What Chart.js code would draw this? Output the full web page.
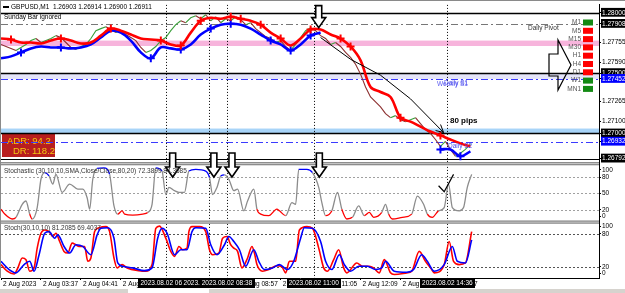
<!DOCTYPE html>
<html lang="en">
<head>
<meta charset="UTF-8">
<title>GBPUSD,M1</title>
<script src="https://cdn.jsdelivr.net/npm/chart.js@4.4.0/dist/chart.umd.min.js"></script>
<style>
  html, body { margin: 0; padding: 0; background: #fff; }
  #wrap { position: relative; width: 625px; height: 293px; overflow: hidden; }
</style>
</head>
<body>
<div id="wrap"><canvas id="mt4" width="625" height="293"></canvas></div>
<script>
// ---- values (x = M1 bars from the left edge) ----

// close, one sample every 8 bars
const closePrices = [
  1.27738,1.27721,1.27705,1.27688,1.27713,1.27738,1.27770,1.27787,1.27754,1.27770,
  1.27787,1.27811,1.27795,1.27754,1.27713,1.27697,1.27721,1.27738,1.27787,1.27852,
  1.27869,1.27885,1.27861,1.27836,1.27852,1.27820,1.27795,1.27770,1.27713,1.27672,
  1.27688,1.27721,1.27770,1.27795,1.27852,1.27902,1.27934,1.27918,1.27959,1.27975,
  1.27951,1.27984,1.27934,1.27967,1.27918,1.27951,1.27934,1.27967,1.27943,1.27902,
  1.27918,1.27869,1.27836,1.27803,1.27787,1.27754,1.27770,1.27721,1.27688,1.27738,
  1.27795,1.27852,1.27877,1.27852,1.27811,1.27787,1.27738,1.27754,1.27721,1.27672,
  1.27631,1.27574,1.27492,1.27385,1.27303,1.27262,1.27221,1.27164,1.27131,1.27148,
  1.27114,1.27098,1.27114,1.27131,1.27082,1.27032,1.27000,1.26950,1.26893,1.26934,
  1.26868,1.26811,1.26836,1.26868,1.26911
];
// red and blue trend lines, one sample every 16 bars
const redLine = [
  1.27787,1.27779,1.27754,1.27754,1.27746,1.27770,1.27787,1.27770,1.27746,1.27754,
  1.27811,1.27869,1.27852,1.27820,1.27787,1.27779,1.27770,1.27738,1.27729,1.27836,
  1.27934,1.27959,1.27951,1.27967,1.27951,1.27934,1.27902,1.27836,1.27787,1.27729,
  1.27787,1.27861,1.27861,1.27820,1.27787,1.27721,1.27606,1.27385,1.27344,1.27303,
  1.27131,1.27098,1.27057,1.27016,1.26984,1.26950,1.26918,1.26893
];
const blueLine = [
  1.27623,1.27639,1.27672,1.27705,1.27721,1.27713,1.27713,1.27705,1.27713,1.27738,
  1.27795,1.27852,1.27836,1.27770,1.27672,1.27623,1.27713,1.27705,1.27697,1.27738,
  1.27820,1.27869,1.27902,1.27910,1.27902,1.27869,1.27820,1.27770,1.27738,1.27688,
  1.27738,1.27811,1.27836,null,null,null,null,null,null,null,
  null,null,null,null,1.26868,1.26868,1.26811,1.26852
];
const redCrossIdx = [1,6,11,16,18,20,23,24,26,28,31,34,35,40,44];
const blueCrossIdx = [2,6,15,18,21,23,27,29,31,44,46];

// Stochastic (30,10,10) main line, upper window
const stoch1Bars = [0,6,18,24,34,40,46,50,58,64,70,77,83,88,98,110,123,131,138,142,
  147,154,165,174,181,187,194,198,211,227,235,242,248,258,264,269,278,285,294,301,
  312,328,334,339,346,352,358,365,373,379,389,395,405,410,416,429,442,446,456,466,
  472,477,490,499,509,514,520,530,539,546,554,563,573,582,590,597,610,616,621,627,
  643,658,667,677,683,691,701,710,717,723,734,741,747,754];
const stoch1Main = [21,12,3,6,30,36,12,3,24,76,88,82,67,85,52,67,58,58,42,21,
  76,96,97,85,27,12,18,12,10,12,15,30,97,91,48,61,55,52,52,91,
  94,91,79,48,61,82,84,76,55,58,18,36,58,21,12,9,21,18,9,33,
  30,94,94,88,61,33,9,18,52,21,3,6,27,9,15,6,15,30,12,3,
  6,12,45,30,12,6,18,24,67,24,18,24,61,85];

// Stoch(30,10,10) lower window: main (red) and signal (blue)
const stoch2MainBars = [0,10,21,27,34,40,46,53,58,64,70,77,83,88,94,101,107,114,120,125,
  134,139,144,150,157,168,174,181,186,194,202,221,232,242,248,254,264,272,278,285,
  291,298,301,306,318,328,334,339,349,355,362,368,373,379,386,395,402,406,410,419,
  429,442,450,456,462,472,478,490,499,509,517,523,533,541,549,554,570,579,590,597,
  606,614,624,630,650,658,670,680,690,694,710,718,725,734,744,754];
const stoch2Main = [24,12,7,18,36,33,12,18,54,81,87,84,75,81,66,48,45,63,60,57,
  57,30,36,84,91,93,84,36,18,24,18,13,12,24,90,94,72,48,39,57,
  51,54,84,93,93,84,51,42,45,72,75,60,54,48,18,36,57,45,24,12,
  15,22,20,9,30,30,87,93,90,54,18,12,33,51,18,9,27,21,21,18,
  9,33,9,6,9,12,48,30,15,9,24,66,30,24,27,84];
const stoch2SigBars = [0,13,24,37,46,53,61,70,77,86,91,101,110,120,131,144,154,160,171,181,
  187,195,211,230,242,251,258,266,278,288,298,306,312,328,336,346,358,365,373,382,
  392,405,413,422,435,446,459,469,480,486,499,512,520,530,542,550,560,573,587,600,
  610,616,630,650,661,674,683,694,710,723,731,744,754];
const stoch2Signal = [30,15,9,24,30,12,42,81,84,72,78,57,45,60,57,42,78,90,91,72,
  27,21,18,13,18,72,90,81,42,51,51,84,91,90,60,42,60,75,66,51,
  21,51,30,15,18,24,15,30,72,91,90,66,30,15,42,24,12,21,21,15,
  18,30,12,10,15,42,30,12,24,57,30,27,69];

// axis
const priceRange = [1.267454, 1.280656];
const priceAxisTicks = [1.28000,1.27908,1.27755,1.27590,1.27500,1.27452,1.27265,1.27100,1.27000,1.26932,1.26792];
const darkBoxTicks = [1.28000,1.27908,1.27500,1.27000,1.26792];
const blueBoxTicks = [1.27452,1.26932];
const stoch1Ticks = [0,20,50,80,100];
const stoch2Ticks = [0,20,80,100];
const timeTickBars = [0,64,128,192,256,320,384,448,512,576,640,704];
const timeTickLabels = ['2 Aug 2023','2 Aug 03:37','2 Aug 04:41','2 Aug 05:45','2 Aug 06:49','2 Aug 07:53',
  '2 Aug 08:57','2 Aug 10:01','2 Aug 11:05','2 Aug 12:09','2 Aug 13:13','2 Aug 14:17'];

// objects on the chart
const levelPrices = [1.28000,1.27908,1.27500,1.27452,1.27000,1.26932,1.26792];
const levelKinds  = ['solid','pivot','solid','support','solid','support','thin'];
const pinkZone = [1.27770, 1.27725];
const lilacZone = [1.27500, 1.27452];
const blueZone = [1.27041, 1.27000];
const vlineBars = [264, 333, 362, 501, 715];
const vlineLabels = ['2023.08.02 06:57','2023.08.02 08:06','2023.08.02 08:38','2023.08.02 11:00','2023.08.02 14:36'];
const tfNames = ['M1','M5','M15','M30','H1','H4','D1','W1','MN1'];
const tfUp = [true,false,false,false,false,false,false,true,true];
const trendBars = [512,560,608,656,709];
const trendPrices = [1.27795,1.27615,1.27483,1.27287,1.27008];
const tickBars = [701,710,725];
const tickVals = [64,53,85];
const stochArrowBars = [275,341,370,510];

const FONT = '"Liberation Sans", Arial, sans-serif';

function everyBars(vals, step) {
  return vals.map((v, i) => ({ x: i * step, y: v }));
}
function pairUp(xs, ys) {
  return ys.map((v, i) => ({ x: xs[i], y: v }));
}
// MT4 keeps the 0 and 100 captions inside the window
function insetLevel(v) {
  return v === 100 ? 93 : v === 0 ? 7.5 : v;
}

function downArrow(ctx, cx, tipY, len) {
  const bw = 3, hw = 7, hl = 10;
  ctx.beginPath();
  ctx.moveTo(cx - bw, tipY - len);
  ctx.lineTo(cx + bw, tipY - len);
  ctx.lineTo(cx + bw, tipY - hl);
  ctx.lineTo(cx + hw, tipY - hl);
  ctx.lineTo(cx, tipY);
  ctx.lineTo(cx - hw, tipY - hl);
  ctx.lineTo(cx - bw, tipY - hl);
  ctx.closePath();
  ctx.fillStyle = '#fff';
  ctx.fill();
  ctx.lineWidth = 1.6;
  ctx.strokeStyle = '#000';
  ctx.stroke();
}

function label(ctx, s, x, y, size, color, weight) {
  ctx.font = (weight || '') + ' ' + size + 'px ' + FONT;
  ctx.fillStyle = color;
  ctx.textAlign = 'left';
  ctx.textBaseline = 'middle';
  ctx.fillText(s, x, y);
}

const mt4Look = {
  id: 'mt4Look',
  beforeDatasetsDraw(chart) {
    const { ctx, chartArea: a } = chart;
    const { x, yP, yS1, yS2 } = chart.scales;
    const L = a.left, R = a.right;
    ctx.save();

    // zones
    [[pinkZone, '#f7b4dc'], [lilacZone, '#e4e4f8'], [blueZone, '#a8d4f8']].forEach(z => {
      const t = yP.getPixelForValue(z[0][0]), b = yP.getPixelForValue(z[0][1]);
      ctx.fillStyle = z[1];
      ctx.fillRect(L, t, R - L, b - t);
    });

    // ADR box
    ctx.fillStyle = '#b81e1e';
    ctx.fillRect(2, 133, 53, 24);
    label(ctx, 'ADR: 94.2', 7, 141, 9.5, '#f2c811');
    label(ctx, 'DR: 118.2', 13, 151, 9.5, '#f2c811');

    // level lines
    const styles = {
      solid:   { c: '#000', w: 1.5, d: [] },
      thin:    { c: '#000', w: 1, d: [] },
      pivot:   { c: '#777', w: 1, d: [7, 3, 2, 3] },
      support: { c: '#3b3bff', w: 1, d: [7, 3, 2, 3] }
    };
    levelPrices.forEach((p, i) => {
      const st = styles[levelKinds[i]];
      const y = Math.round(yP.getPixelForValue(p)) + 0.5;
      ctx.strokeStyle = st.c; ctx.lineWidth = st.w; ctx.setLineDash(st.d);
      ctx.beginPath(); ctx.moveTo(L, y); ctx.lineTo(R, y); ctx.stroke();
    });

    // stochastic levels
    ctx.lineWidth = 1;
    ctx.setLineDash([2, 2]);
    ctx.strokeStyle = '#a0a0a0';
    [80, 50, 20].forEach(v => {
      const y = Math.round(yS1.getPixelForValue(v)) + 0.5;
      ctx.beginPath(); ctx.moveTo(L, y); ctx.lineTo(R, y); ctx.stroke();
    });
    ctx.strokeStyle = '#555';
    [80, 20].forEach(v => {
      const y = Math.round(yS2.getPixelForValue(v)) + 0.5;
      ctx.beginPath(); ctx.moveTo(L, y); ctx.lineTo(R, y); ctx.stroke();
    });

    // vertical lines
    ctx.setLineDash([1, 2]);
    ctx.strokeStyle = '#000';
    vlineBars.forEach(b => {
      const px = Math.round(x.getPixelForValue(b)) + 0.5;
      ctx.beginPath(); ctx.moveTo(px, a.top); ctx.lineTo(px, a.bottom); ctx.stroke();
    });
    ctx.restore();
  },

  afterDatasetsDraw(chart) {
    const { ctx, chartArea: a } = chart;
    const { x, yP, yS1, yS2 } = chart.scales;
    const R = a.right;
    ctx.save();

    // window separators
    [yS1.top, yS2.top].forEach((t, i) => {
      const y0 = i === 0 ? t - 2 : t - 1;
      ctx.fillStyle = '#d8d8d8';
      ctx.fillRect(0, y0, R, 3);
      ctx.fillStyle = '#7a7a7a';
      ctx.fillRect(0, y0, R, 1);
      ctx.fillRect(0, y0 + 2, R, 1);
    });
    ctx.fillStyle = '#8a8a8a';
    ctx.fillRect(0, 0, 625, 1);
    ctx.fillRect(0, 0, 1, a.bottom);

    // texts in the main window
    ctx.fillStyle = '#000';
    ctx.fillRect(3, 6, 6, 2);
    label(ctx, 'GBPUSD,M1  1.26903 1.26914 1.26900 1.26911', 11, 7, 6.5, '#000');
    label(ctx, 'Sunday Bar ignored', 4, 17, 6.5, '#000');
    label(ctx, 'Daily Pivot', 528, 28, 6.5, '#333');
    label(ctx, 'Weekly S1', 437, 84, 6.5, '#5a5af0');
    label(ctx, 'Daily S1', 444, 83, 6.5, '#5a5af0');
    label(ctx, 'Daily S2', 448, 146, 6.5, '#4848f0');
    label(ctx, '80 pips', 450, 121, 8, '#000', 'bold');

    // timeframe matrix
    tfNames.forEach((n, k) => {
      const y = 22.5 + 8.3 * k;
      ctx.font = '6.5px ' + FONT;
      ctx.fillStyle = '#555';
      ctx.textAlign = 'right';
      ctx.textBaseline = 'middle';
      ctx.fillText(n, 581, y);
      ctx.fillStyle = tfUp[k] ? '#138a13' : '#ff0000';
      ctx.fillRect(583, y - 3, 10, 6);
    });

    // trend arrow
    ctx.strokeStyle = '#000';
    ctx.lineWidth = 1;
    ctx.beginPath();
    trendBars.forEach((b, i) => {
      const px = x.getPixelForValue(b), py = yP.getPixelForValue(trendPrices[i]);
      if (i === 0) ctx.moveTo(px, py); else ctx.lineTo(px, py);
    });
    ctx.stroke();
    const ex = x.getPixelForValue(trendBars[4]), ey = yP.getPixelForValue(trendPrices[4]);
    ctx.beginPath();
    ctx.moveTo(ex - 8, ey - 2); ctx.lineTo(ex, ey); ctx.lineTo(ex - 3, ey - 8);
    ctx.stroke();

    // big right arrow
    ctx.beginPath();
    ctx.moveTo(549, 54); ctx.lineTo(558, 54); ctx.lineTo(558, 40);
    ctx.lineTo(571, 65); ctx.lineTo(558, 90); ctx.lineTo(558, 76);
    ctx.lineTo(549, 76); ctx.closePath();
    ctx.lineWidth = 1.2;
    ctx.stroke();

    // hollow down arrows
    downArrow(ctx, x.getPixelForValue(509), yP.getPixelForValue(1.27877), 22);
    stochArrowBars.forEach(b => downArrow(ctx, x.getPixelForValue(b), yS1.getPixelForValue(80), 24));

    // hand-drawn tick in the stochastic window
    ctx.beginPath();
    tickBars.forEach((b, i) => {
      const px = x.getPixelForValue(b), py = yS1.getPixelForValue(tickVals[i]);
      if (i === 0) ctx.moveTo(px, py); else ctx.lineTo(px, py);
    });
    ctx.lineWidth = 1.2;
    ctx.stroke();

    // indicator captions
    label(ctx, 'Stochastic (30,10,10,SMA,Close/Close,80,20) 72.3899 84.3585', 4, yS1.top + 7, 6.5, '#333');
    label(ctx, 'Stoch(30,10,10) 81.2085 69.4037', 4, yS2.top + 7, 6.5, '#333');

    // time labels of the vertical lines
    ctx.font = '6.5px ' + FONT;
    vlineBars.forEach((b, i) => {
      const px = x.getPixelForValue(b);
      const w = ctx.measureText(vlineLabels[i]).width + 4;
      ctx.fillStyle = '#000';
      ctx.fillRect(Math.round(px - w / 2), a.bottom + 1, Math.round(w), 9);
      ctx.fillStyle = '#fff';
      ctx.textAlign = 'center';
      ctx.textBaseline = 'middle';
      ctx.fillText(vlineLabels[i], px, a.bottom + 5.5);
    });

    // tab strip at the bottom
    ctx.fillStyle = '#d6d3ce';
    ctx.fillRect(0, 289, 625, 4);
    ctx.fillStyle = '#fff';
    ctx.fillRect(128, 289, 81, 4);
    ctx.restore();
  }
};

const tickFont = { family: FONT, size: 6.5 };
function yAxis(weight, min, max, ticks, opts) {
  return Object.assign({
    position: 'right', stack: 'win', stackWeight: weight, min: min, max: max,
    afterBuildTicks: s => { s.ticks = ticks.map(v => ({ value: insetLevel(v) })); },
    afterFit: s => { s.width = 26; },
    ticks: { autoSkip: false, padding: 1, font: tickFont, color: '#000', callback: (v, i) => String(ticks[i]) },
    grid: { drawOnChartArea: false, tickLength: 2, color: '#000' },
    border: { color: '#000' }
  }, opts || {});
}

const ctx = document.getElementById('mt4').getContext('2d');
new Chart(ctx, {
  type: 'line',
  data: {
    datasets: [
      {
        data: everyBars(redLine, 16), yAxisID: 'yP', order: 1,
        borderColor: '#ff0000', borderWidth: 2.6, tension: 0.35,
        pointStyle: 'cross', pointBorderColor: '#ff0000', pointBorderWidth: 2,
        pointRadius: c => redCrossIdx.includes(c.dataIndex) ? 4 : 0
      },
      {
        data: everyBars(blueLine, 16), yAxisID: 'yP', order: 2, spanGaps: false,
        borderColor: '#0000ff', borderWidth: 2.6, tension: 0.35,
        pointStyle: 'cross', pointBorderColor: '#0000ff', pointBorderWidth: 2,
        pointRadius: c => blueCrossIdx.includes(c.dataIndex) ? 4 : 0
      },
      {
        data: everyBars(closePrices, 8), yAxisID: 'yP', order: 3,
        borderWidth: 1.1, pointRadius: 0,
        segment: { borderColor: c => c.p1.parsed.y >= c.p0.parsed.y ? '#3aa03a' : '#8c2f2f' }
      },
      {
        data: pairUp(stoch1Bars, stoch1Main), yAxisID: 'yS1', order: 4,
        borderWidth: 1.3, pointRadius: 0, cubicInterpolationMode: 'monotone',
        segment: {
          borderColor: c => (c.p0.parsed.y >= 78 && c.p1.parsed.y >= 78) ? '#0000ff'
            : (c.p0.parsed.y <= 22 && c.p1.parsed.y <= 22) ? '#ff0000' : '#8c8c8c'
        }
      },
      {
        data: pairUp(stoch2SigBars, stoch2Signal), yAxisID: 'yS2', order: 5,
        borderColor: '#0000ff', borderWidth: 1.6, pointRadius: 0, cubicInterpolationMode: 'monotone'
      },
      {
        data: pairUp(stoch2MainBars, stoch2Main), yAxisID: 'yS2', order: 6,
        borderColor: '#ff0000', borderWidth: 1.6, pointRadius: 0, cubicInterpolationMode: 'monotone'
      }
    ]
  },
  options: {
    responsive: false,
    animation: false,
    devicePixelRatio: 1,
    layout: { padding: { left: 1, top: 2, right: 0, bottom: 5 } },
    plugins: { legend: { display: false }, tooltip: { enabled: false } },
    scales: {
      x: {
        type: 'linear', min: 0, max: 958,
        afterBuildTicks: s => { s.ticks = timeTickBars.map(v => ({ value: v })); },
        afterFit: s => { s.height = 10; },
        ticks: {
          autoSkip: false, maxRotation: 0, align: 'start', padding: 0, labelOffset: 2,
          font: tickFont, color: '#000',
          callback: (v, i) => timeTickLabels[i]
        },
        grid: { drawOnChartArea: false, tickLength: 2, color: '#000' },
        border: { color: '#000' }
      },
      yP: yAxis(161, priceRange[0], priceRange[1], priceAxisTicks, {
        afterBuildTicks: s => { s.ticks = priceAxisTicks.map(v => ({ value: v })); },
        ticks: {
          autoSkip: false, padding: 1, font: tickFont,
          callback: v => v.toFixed(5),
          showLabelBackdrop: true,
          backdropPadding: { left: 1, right: 2, top: 1, bottom: 0 },
          backdropColor: c => darkBoxTicks.includes(c.tick.value) ? '#000'
            : blueBoxTicks.includes(c.tick.value) ? '#0000ff' : 'rgba(0,0,0,0)',
          color: c => (darkBoxTicks.includes(c.tick.value) || blueBoxTicks.includes(c.tick.value)) ? '#fff' : '#000'
        }
      }),
      yS1: yAxis(58, -1.82, 103.64, stoch1Ticks),
      yS2: yAxis(57, -0.36, 102.16, stoch2Ticks)
    }
  },
  plugins: [mt4Look]
});
</script>
</body>
</html>
